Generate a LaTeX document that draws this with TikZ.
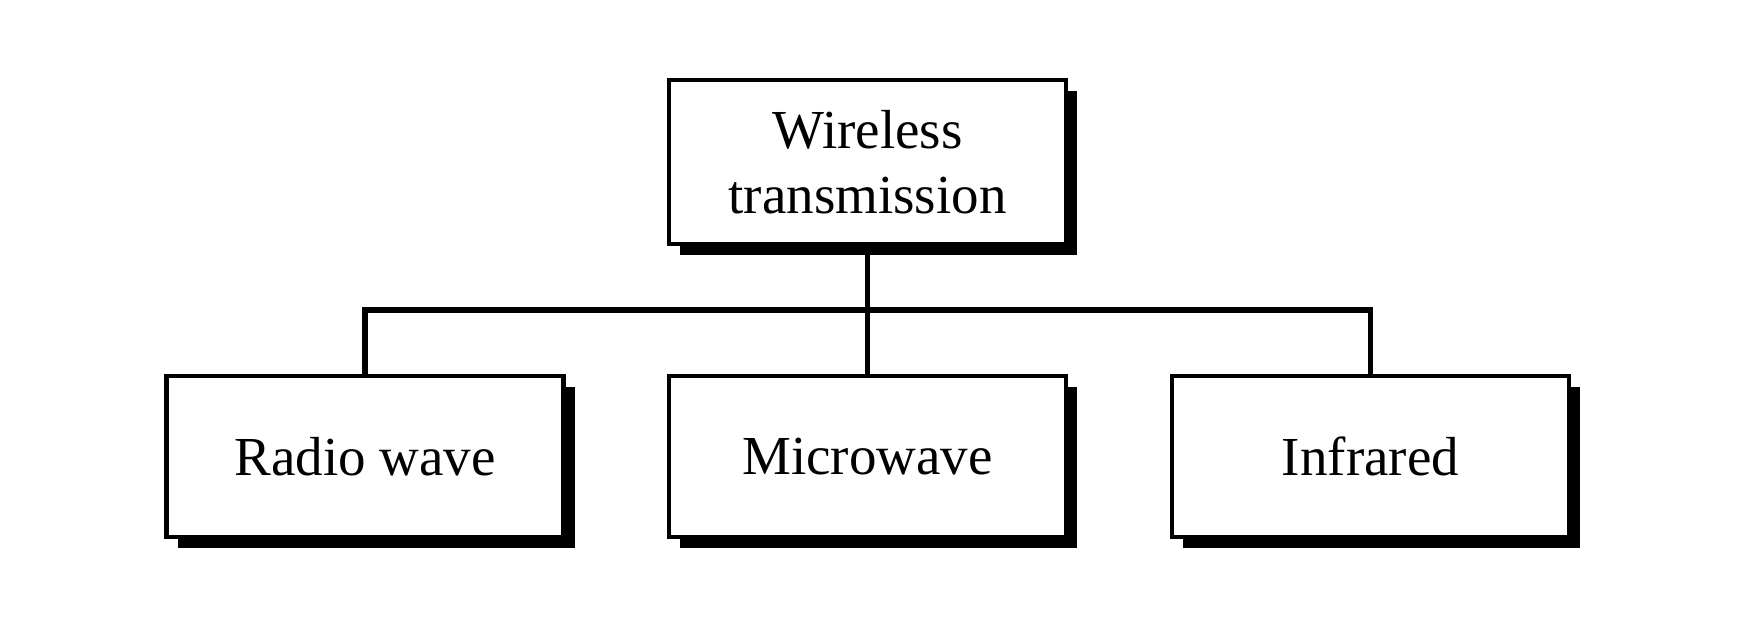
\documentclass[tikz,border=0pt]{standalone}
\usepackage{fontspec}
\setmainfont{Liberation Serif}
\usetikzlibrary{shadows}
\begin{document}
\begin{tikzpicture}[x=1pt,y=-1pt,
  box/.style={draw=black, fill=white, line width=4.5pt, inner sep=0pt,
    minimum width=397pt, align=center, font=\fontsize{55}{65}\selectfont,
    drop shadow={shadow xshift=11pt, shadow yshift=-11pt, fill=black, opacity=1}},
  link/.style={draw=black, line width=5.5pt, line join=miter}]
\useasboundingbox (0,0) rectangle (1744,628);
\node[box, minimum height=164pt] (top) at (867.5,162) {Wireless\\transmission};
\node[box, minimum height=161pt] (left) at (365,456.5) {Radio wave};
\node[box, minimum height=161pt] (mid) at (867.5,456.5) {Microwave};
\node[box, minimum height=161pt] (right) at (1370.5,456.5) {Infrared};
\coordinate (barL) at (365,310);
\coordinate (barR) at (1370.5,310);
\draw[link] (top.south) -- (mid.north);
\draw[link] (left.north) -- (barL) -- (barR) -- (right.north);
\end{tikzpicture}
\end{document}
